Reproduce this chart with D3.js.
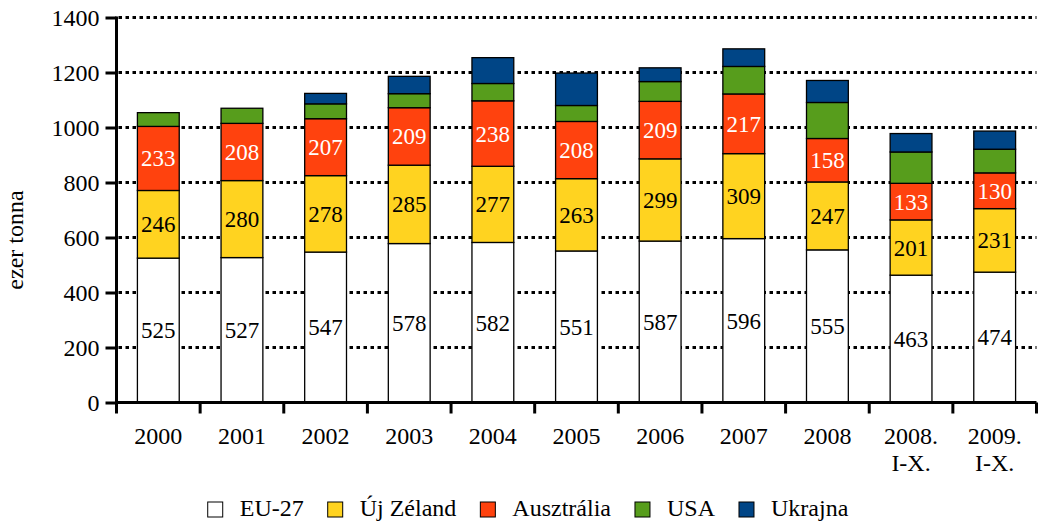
<!DOCTYPE html>
<html>
<head>
<meta charset="utf-8">
<script src="https://cdn.jsdelivr.net/npm/d3@7"></script>
<style>
  html, body { margin: 0; padding: 0; background: #fff; }
  svg { display: block; font-family: "Liberation Serif", "Times New Roman", serif; }
  .grid line { stroke: #000; stroke-width: 3; stroke-dasharray: 3.5,3.5; }
</style>
</head>
<body>
<svg id="chart" width="1038" height="527"></svg>
<script>
(function () {
  "use strict";

  const years   = ["2000", "2001", "2002", "2003", "2004", "2005", "2006", "2007", "2008", "2008. I-X.", "2009. I-X."];
  const series  = ["EU-27", "Új Zéland", "Ausztrália", "USA", "Ukrajna"];
  const colors  = ["#ffffff", "#ffd320", "#ff420e", "#579d1c", "#004586"];
  const labelColors = ["#000", "#000", "#fff", null, null];

  const eu27      = [525, 527, 547, 578, 582, 551, 587, 596, 555, 463, 474];
  const ujZeland  = [246, 280, 278, 285, 277, 263, 299, 309, 247, 201, 231];
  const ausztralia = [233, 208, 207, 209, 238, 208, 209, 217, 158, 133, 130];
  const usa       = [50, 55, 54, 51, 63, 58, 72, 100, 131, 114, 86];
  const ukrajna   = [0, 0, 38, 63, 94, 118, 50, 64, 80, 67, 66];

  const yTicks = [0, 200, 400, 600, 800, 1000, 1200, 1400];

  const values = [eu27, ujZeland, ausztralia, usa, ukrajna];
  const rows = years.map((y, i) => {
    const r = { year: y };
    series.forEach((s, k) => r[s] = values[k][i]);
    return r;
  });
  const stacked = d3.stack().keys(series)(rows);

  const svg = d3.select("#chart");
  const x0 = 116.5, x1 = 1036.5, yTop = 17.5, yBot = 402.5;

  const x = d3.scaleBand().domain(years).range([x0, x1]).paddingInner(0.5).paddingOuter(0.25);
  const y = d3.scaleLinear().domain([0, 1400]).range([yBot, yTop]);

  // dotted grid
  svg.append("g").attr("class", "grid")
    .selectAll("line")
    .data(yTicks.filter(d => d > 0))
    .join("line")
    .attr("x1", x0 + 2).attr("x2", x1)
    .attr("y1", d => y(d)).attr("y2", d => y(d));

  // bars
  const layer = svg.append("g").selectAll("g")
    .data(stacked)
    .join("g")
    .attr("fill", (d, k) => colors[k]);

  layer.selectAll("rect")
    .data(d => d.filter(p => p[1] - p[0] > 0))
    .join("rect")
    .attr("x", d => x(d.data.year))
    .attr("width", x.bandwidth())
    .attr("y", d => y(d[1]))
    .attr("height", d => y(d[0]) - y(d[1]))
    .attr("stroke", "#000")
    .attr("stroke-width", 1.3);

  // value labels for first three series
  stacked.forEach((s, k) => {
    if (!labelColors[k]) return;
    svg.append("g").selectAll("text")
      .data(s)
      .join("text")
      .attr("x", d => x(d.data.year) + x.bandwidth() / 2)
      .attr("y", d => y((d[0] + d[1]) / 2))
      .attr("dy", "0.35em")
      .attr("text-anchor", "middle")
      .attr("font-size", 23)
      .attr("fill", labelColors[k])
      .text(d => d[1] - d[0]);
  });

  // y axis
  const yAxis = svg.append("g")
    .attr("transform", `translate(${x0},0)`)
    .call(d3.axisLeft(y).tickValues(yTicks).tickFormat(d3.format("d")).tickSize(11).tickPadding(6));
  yAxis.select(".domain").attr("stroke-width", 3).attr("d", `M0,${yTop - 1}V${yBot + 1.5}`);
  yAxis.selectAll(".tick line").attr("stroke-width", 3);
  yAxis.selectAll(".tick text")
    .attr("font-family", "Liberation Serif, serif")
    .attr("font-size", 24)
    .attr("fill", "#000")
    .attr("dy", "0.33em");

  // x axis line + boundary ticks
  const step = x.step();
  const xa = svg.append("g");
  xa.append("line")
    .attr("x1", x0 - 1.5).attr("x2", x1)
    .attr("y1", yBot).attr("y2", yBot)
    .attr("stroke", "#000").attr("stroke-width", 3);
  xa.selectAll(".xt")
    .data(d3.range(years.length + 1))
    .join("line")
    .attr("class", "xt")
    .attr("x1", i => x0 + i * step).attr("x2", i => x0 + i * step)
    .attr("y1", yBot).attr("y2", yBot + 11)
    .attr("stroke", "#000").attr("stroke-width", 3);

  xa.selectAll(".xl")
    .data(years)
    .join("text")
    .attr("class", "xl")
    .attr("text-anchor", "middle")
    .attr("font-size", 24)
    .each(function (d) {
      const parts = d.split(" ");
      const t = d3.select(this);
      parts.forEach((p, j) => {
        t.append("tspan")
          .attr("x", x(d) + x.bandwidth() / 2)
          .attr("y", 444 + j * 27)
          .text(p);
      });
    });

  // y axis title
  svg.append("text")
    .attr("transform", "translate(23,240) rotate(-90)")
    .attr("text-anchor", "middle")
    .attr("font-size", 24)
    .text("ezer tonna");

  // legend
  const legend = svg.append("g");
  const items = legend.selectAll("g")
    .data(series)
    .join("g");
  items.append("rect")
    .attr("width", 15).attr("height", 15)
    .attr("y", 502)
    .attr("fill", (d, k) => colors[k])
    .attr("stroke", "#000").attr("stroke-width", 1);
  items.append("text")
    .attr("x", 32).attr("y", 516)
    .attr("font-size", 24)
    .text(d => d);

  let cx = 0;
  const offs = [];
  items.each(function () {
    offs.push(cx);
    cx += 32 + this.querySelector("text").getComputedTextLength() + 24;
  });
  const total = cx - 24;
  const start = 528 - total / 2;
  items.attr("transform", (d, k) => `translate(${start + offs[k]},0)`);
})();
</script>
</body>
</html>
